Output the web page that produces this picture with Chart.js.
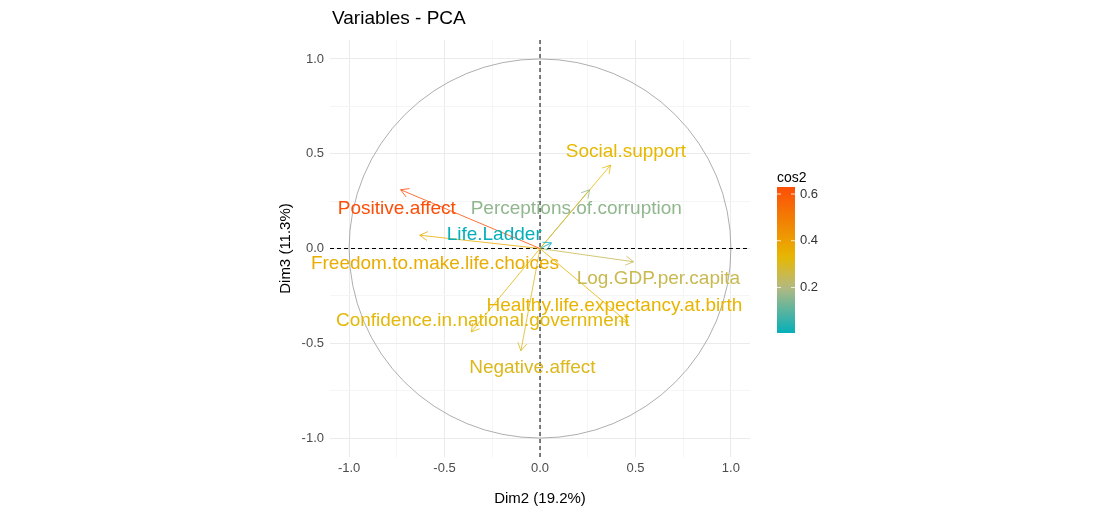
<!DOCTYPE html>
<html lang="en">
<head>
<meta charset="UTF-8">
<title>Variables - PCA</title>
<script src="https://cdn.jsdelivr.net/npm/chart.js@4.4.8/dist/chart.umd.min.js"></script>
<style>body{margin:0;background:#fff}#wrap{width:1120px;height:512px}</style>
</head>
<body>
<div id="wrap"><canvas id="pca"></canvas></div>
<script>
const variables = ['Positive.affect','Social.support','Perceptions.of.corruption','Life.Ladder','Freedom.to.make.life.choices','Log.GDP.per.capita','Healthy.life.expectancy.at.birth','Confidence.in.national.government','Negative.affect'];
const dim2 = [-0.73, 0.37, 0.26, 0.06, -0.63, 0.49, 0.46, -0.36, -0.10];
const dim3 = [0.31, 0.44, 0.31, 0.03, 0.07, -0.07, -0.39, -0.44, -0.54];
const cos2 = [0.63, 0.33, 0.16, 0.005, 0.36, 0.25, 0.34, 0.32, 0.30];
const labelX = [-0.75, 0.45, 0.19, -0.24, -0.55, 0.62, 0.39, -0.30, -0.04];
const labelY = [0.21, 0.51, 0.21, 0.07, -0.08, -0.16, -0.30, -0.38, -0.63];
const axisTicks = [-1.0, -0.5, 0, 0.5, 1.0];

function cosColor(v) {
  // teal -> yellow -> orange gradient over 0..0.63
  const stops = [[0,[0,175,187]],[0.2,[180,185,130]],[0.33,[231,184,0]],[0.63,[252,78,7]]];
  for (let i = 1; i < stops.length; i++) {
    if (v <= stops[i][0]) {
      const a = stops[i-1], b = stops[i], t = (v - a[0]) / (b[0] - a[0]);
      const c = a[1].map((x, k) => Math.round(x + (b[1][k] - x) * t));
      return `rgb(${c[0]},${c[1]},${c[2]})`;
    }
  }
  return 'rgb(252,78,7)';
}

const fmt = v => {
  const r = Math.round(v * 100) / 100;
  if (!axisTicks.some(t => Math.abs(t - r) < 1e-6)) return '';
  return r.toFixed(1);
};

const pcaPlugin = {
  id: 'pca',
  beforeDatasetsDraw(chart) {
    const {ctx, scales: {x, y}} = chart;
    ctx.save();
    ctx.strokeStyle = '#999';
    ctx.lineWidth = 0.8;
    ctx.beginPath();
    ctx.ellipse(x.getPixelForValue(0), y.getPixelForValue(0),
      x.getPixelForValue(1) - x.getPixelForValue(0),
      y.getPixelForValue(0) - y.getPixelForValue(1), 0, 0, Math.PI * 2);
    ctx.stroke();
    ctx.strokeStyle = '#000';
    ctx.lineWidth = 1;
    ctx.setLineDash([4, 3]);
    ctx.beginPath();
    ctx.moveTo(x.left, y.getPixelForValue(0)); ctx.lineTo(x.right, y.getPixelForValue(0));
    ctx.moveTo(x.getPixelForValue(0), y.top); ctx.lineTo(x.getPixelForValue(0), y.bottom);
    ctx.stroke();
    ctx.restore();
  },
  afterDatasetsDraw(chart) {
    const {ctx, scales: {x, y}} = chart;
    ctx.save();
    variables.forEach((name, i) => {
      const col = cosColor(cos2[i]);
      const px = x.getPixelForValue(dim2[i]), py = y.getPixelForValue(dim3[i]);
      const ang = Math.atan2(py - y.getPixelForValue(0), px - x.getPixelForValue(0));
      ctx.strokeStyle = col; ctx.lineWidth = 0.8;
      ctx.beginPath();
      [Math.PI / 6, -Math.PI / 6].forEach(d => {
        ctx.moveTo(px, py);
        ctx.lineTo(px - 9 * Math.cos(ang + d), py - 9 * Math.sin(ang + d));
      });
      ctx.stroke();
      ctx.fillStyle = col;
      ctx.font = '19px "Liberation Sans", Arial, sans-serif';
      ctx.textAlign = 'center'; ctx.textBaseline = 'middle';
      ctx.fillText(name, x.getPixelForValue(labelX[i]), y.getPixelForValue(labelY[i]));
    });
    // title
    ctx.fillStyle = '#000'; ctx.textAlign = 'left';
    ctx.font = '19px "Liberation Sans", Arial, sans-serif';
    ctx.fillText('Variables - PCA', 332, 19);
    // colour bar
    const top = 187, bot = 333, lo = 0.005, hi = 0.63;
    const g = ctx.createLinearGradient(0, bot, 0, top);
    for (let k = 0; k <= 20; k++) g.addColorStop(k / 20, cosColor(lo + (hi - lo) * k / 20));
    ctx.fillStyle = g; ctx.fillRect(777, top, 18, bot - top);
    ctx.fillStyle = '#000'; ctx.font = '14px "Liberation Sans", Arial, sans-serif';
    ctx.fillText('cos2', 777, 178);
    ctx.font = '13px "Liberation Sans", Arial, sans-serif'; ctx.fillStyle = '#333';
    [0.2, 0.4, 0.6].forEach(v => {
      const yy = bot - (v - lo) / (hi - lo) * (bot - top);
      ctx.strokeStyle = '#fff'; ctx.beginPath();
      ctx.moveTo(777, yy); ctx.lineTo(781, yy); ctx.moveTo(791, yy); ctx.lineTo(795, yy); ctx.stroke();
      ctx.fillText(v.toFixed(1), 800, yy);
    });
    ctx.restore();
  }
};

const datasets = variables.map((name, i) => ({
  label: name,
  data: [{x: 0, y: 0}, {x: dim2[i], y: dim3[i]}],
  borderColor: cosColor(cos2[i]),
  borderWidth: 0.8,
  pointRadius: 0,
  showLine: true
}));

const gridColor = c => (axisTicks.some(t => Math.abs(t - c.tick.value) < 1e-6) ? '#ebebeb' : '#f5f5f5');

new Chart(document.getElementById('pca'), {
  type: 'scatter',
  data: {datasets},
  plugins: [pcaPlugin],
  options: {
    responsive: true, maintainAspectRatio: false, animation: false,
    layout: {padding: {top: 40, right: 370, left: 277, bottom: 0}},
    plugins: {legend: {display: false}, tooltip: {enabled: false}},
    scales: {
      x: {
        min: -1.1, max: 1.1,
        afterFit: s => { s.height = 55; },
        afterBuildTicks: s => { s.ticks = [-1, -0.75, -0.5, -0.25, 0, 0.25, 0.5, 0.75, 1].map(v => ({value: v})); },
        ticks: {callback: fmt, color: '#4d4d4d', font: {size: 13, family: 'Liberation Sans'}, maxRotation: 0, autoSkip: false, padding: 4},
        grid: {color: gridColor, drawTicks: false},
        border: {display: false},
        title: {display: true, text: 'Dim2 (19.2%)', color: '#000', font: {size: 15, family: 'Liberation Sans'}, padding: {top: 2}}
      },
      y: {
        min: -1.1, max: 1.1,
        afterFit: s => { s.width = 53; },
        afterBuildTicks: s => { s.ticks = [-1, -0.75, -0.5, -0.25, 0, 0.25, 0.5, 0.75, 1].map(v => ({value: v})); },
        ticks: {callback: fmt, color: '#4d4d4d', font: {size: 13, family: 'Liberation Sans'}, autoSkip: false, padding: 6},
        grid: {color: gridColor, drawTicks: false},
        border: {display: false},
        title: {display: true, text: 'Dim3 (11.3%)', color: '#000', font: {size: 15, family: 'Liberation Sans'}, padding: 0}
      }
    }
  }
});
</script>
</body>
</html>
